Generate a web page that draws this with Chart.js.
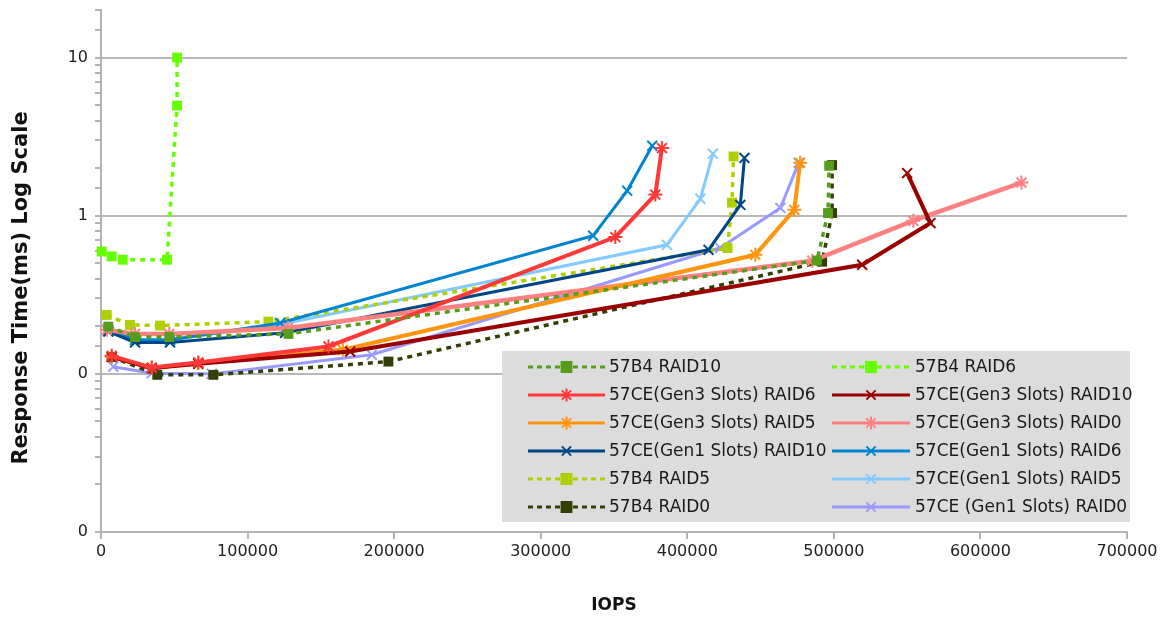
<!DOCTYPE html>
<html>
<head>
<meta charset="utf-8">
<script src="https://cdn.jsdelivr.net/npm/chart.js@4.4.1/dist/chart.umd.min.js"></script>
<style>
  html, body { margin: 0; padding: 0; background: #ffffff; }
  #wrap { width: 1169px; height: 621px; }
</style>
</head>
<body>
<div id="wrap"><canvas id="c" width="1169" height="621"></canvas></div>
<script>
// IOPS (x) and response time in ms (y) for each controller / RAID configuration
const iops_57B4_R10 = [5000, 23200, 46600, 127900, 488500, 496000, 496800];
const rt_57B4_R10   = [0.199, 0.171, 0.171, 0.179, 0.521, 1.04, 2.07];

const iops_57B4_R6 = [500, 7300, 14800, 45000, 51900, 51900];
const rt_57B4_R6   = [0.594, 0.553, 0.527, 0.527, 4.97, 10.0];

const iops_G3_R6 = [7300, 34600, 66400, 155200, 350900, 378200, 382700];
const rt_G3_R6   = [0.130, 0.1096, 0.118, 0.149, 0.733, 1.36, 2.68];

const iops_G3_R10 = [7300, 34600, 66400, 170000, 519300, 565900, 550000];
const rt_G3_R10   = [0.128, 0.1086, 0.1157, 0.1384, 0.490, 0.899, 1.86];

const iops_G3_R5 = [7300, 34600, 66400, 165000, 446400, 473000, 477000];
const rt_G3_R5   = [0.128, 0.109, 0.117, 0.142, 0.566, 1.09, 2.16];

const iops_G3_R0 = [4000, 23200, 46600, 127600, 485300, 554200, 628000];
const rt_G3_R0   = [0.19, 0.179, 0.179, 0.195, 0.519, 0.93, 1.62];

const iops_G1_R10 = [5000, 23200, 47100, 125600, 414500, 436200, 439000];
const rt_G1_R10   = [0.185, 0.158, 0.158, 0.182, 0.609, 1.17, 2.32];

const iops_G1_R6 = [4800, 23200, 47100, 122200, 335800, 359000, 376100];
const rt_G1_R6   = [0.19, 0.164, 0.164, 0.21, 0.747, 1.44, 2.77];

const iops_57B4_R5 = [3900, 19800, 40300, 114200, 427500, 430500, 431600];
const rt_57B4_R5   = [0.236, 0.204, 0.202, 0.214, 0.625, 1.21, 2.37];

const iops_G1_R5 = [5000, 23200, 47100, 122200, 386100, 408900, 417500];
const rt_G1_R5   = [0.19, 0.165, 0.165, 0.205, 0.655, 1.28, 2.47];

const iops_57B4_R0 = [7300, 38400, 76700, 196100, 492000, 498800, 498800];
const rt_57B4_R0   = [0.128, 0.0986, 0.0986, 0.1196, 0.512, 1.04, 2.09];

const iops_G1_R0 = [8400, 34600, 75600, 184800, 422500, 463500, 476000];
const rt_G1_R0   = [0.111, 0.101, 0.1, 0.132, 0.627, 1.12, 2.16];

const seriesLabels = [
  '57B4 RAID10', '57B4 RAID6',
  '57CE(Gen3 Slots) RAID6', '57CE(Gen3 Slots) RAID10',
  '57CE(Gen3 Slots) RAID5', '57CE(Gen3 Slots) RAID0',
  '57CE(Gen1 Slots) RAID10', '57CE(Gen1 Slots) RAID6',
  '57B4 RAID5', '57CE(Gen1 Slots) RAID5',
  '57B4 RAID0', '57CE (Gen1 Slots) RAID0'
];

const xTicks = [0, 100000, 200000, 300000, 400000, 500000, 600000, 700000];
const yDecades = [0.01, 0.1, 1, 10];

function pts(xs, ys) { return xs.map((x, i) => ({ x: x, y: ys[i] })); }

// dotted series with square markers (57B4), solid series with star / cross markers (57CE)
function dotted(label, xs, ys, color) {
  return {
    label, data: pts(xs, ys), borderColor: color, backgroundColor: color,
    borderWidth: 3.5, borderDash: [5, 5], showLine: true, tension: 0,
    pointStyle: 'rect', pointRadius: 7, pointHoverRadius: 7,
    pointBorderWidth: 0, pointBackgroundColor: color, pointBorderColor: color, clip: 12
  };
}
function solid(label, xs, ys, color, width, style) {
  return {
    label, data: pts(xs, ys), borderColor: color, backgroundColor: color,
    borderWidth: width, showLine: true, tension: 0,
    pointStyle: style, pointRadius: 7, pointHoverRadius: 7,
    pointBorderWidth: 2, pointBackgroundColor: color, pointBorderColor: color, clip: 12
  };
}

const datasets = [
  dotted(seriesLabels[0], iops_57B4_R10, rt_57B4_R10, '#579d1c'),
  dotted(seriesLabels[1], iops_57B4_R6, rt_57B4_R6, '#66ff00'),
  solid(seriesLabels[2], iops_G3_R6, rt_G3_R6, '#ff3838', 4, 'star'),
  solid(seriesLabels[3], iops_G3_R10, rt_G3_R10, '#990000', 4, 'crossRot'),
  solid(seriesLabels[4], iops_G3_R5, rt_G3_R5, '#ff950e', 4, 'star'),
  solid(seriesLabels[5], iops_G3_R0, rt_G3_R0, '#ff8080', 4.5, 'star'),
  solid(seriesLabels[6], iops_G1_R10, rt_G1_R10, '#004586', 3, 'crossRot'),
  solid(seriesLabels[7], iops_G1_R6, rt_G1_R6, '#0084d1', 3, 'crossRot'),
  dotted(seriesLabels[8], iops_57B4_R5, rt_57B4_R5, '#aecf00'),
  solid(seriesLabels[9], iops_G1_R5, rt_G1_R5, '#83caff', 3, 'crossRot'),
  dotted(seriesLabels[10], iops_57B4_R0, rt_57B4_R0, '#314004'),
  solid(seriesLabels[11], iops_G1_R0, rt_G1_R0, '#9999ff', 3, 'crossRot')
];

const isDecade = v => yDecades.some(d => Math.abs(v - d) / d < 1e-6);

// two-column legend inside a grey panel in the lower right of the plot
const panelLegend = {
  id: 'panelLegend',
  afterDraw(chart) {
    const ctx = chart.ctx;
    ctx.save();
    ctx.fillStyle = '#dcdcdc';
    ctx.fillRect(502, 351, 628, 171);
    chart.data.datasets.forEach((ds, i) => {
      const row = Math.floor(i / 2), col = i % 2;
      const y = 367 + row * 28;
      const x0 = col ? 832 : 528, x1 = col ? 910 : 605, tx = col ? 915 : 609;
      ctx.strokeStyle = ds.borderColor;
      ctx.fillStyle = ds.borderColor;
      ctx.lineWidth = 3;
      ctx.setLineDash(ds.borderDash ? [5, 4] : []);
      ctx.beginPath();
      ctx.moveTo(x0, y); ctx.lineTo(x1, y);
      ctx.stroke();
      ctx.setLineDash([]);
      ctx.lineWidth = ds.pointBorderWidth || 2;
      Chart.helpers.drawPoint(ctx, { pointStyle: ds.pointStyle, radius: ds.pointStyle === 'rect' ? 7 : 6.5, borderWidth: ctx.lineWidth, rotation: 0 }, (x0 + x1) / 2, y);
      ctx.fillStyle = '#1a1a1a';
      ctx.font = '17px "DejaVu Sans"';
      ctx.textBaseline = 'middle';
      ctx.textAlign = 'left';
      ctx.fillText(ds.label, tx, y + 1);
    });
    ctx.restore();
  }
};

// axis titles
const axisTitles = {
  id: 'axisTitles',
  afterDraw(chart) {
    const ctx = chart.ctx;
    ctx.save();
    ctx.fillStyle = '#111111';
    ctx.textAlign = 'center';
    ctx.textBaseline = 'middle';
    ctx.font = 'bold 17px "DejaVu Sans"';
    ctx.fillText('IOPS', 614, 606);
    ctx.translate(22, 288);
    ctx.rotate(-Math.PI / 2);
    ctx.font = 'bold 21px "DejaVu Sans"';
    ctx.fillText('Response Time(ms) Log Scale', 0, 0);
    ctx.restore();
  }
};

new Chart(document.getElementById('c'), {
  type: 'scatter',
  data: { datasets },
  options: {
    responsive: false,
    animation: false,
    devicePixelRatio: 1,
    layout: { padding: { top: 10, right: 42, left: 0, bottom: 0 } },
    plugins: { legend: { display: false }, tooltip: { enabled: false } },
    scales: {
      x: {
        type: 'linear', min: 0, max: 700000,
        afterBuildTicks: s => { s.ticks = xTicks.map(v => ({ value: v })); },
        ticks: { color: '#222222', font: { family: 'DejaVu Sans', size: 16 }, padding: 3, maxRotation: 0, callback: v => String(v) },
        grid: { drawOnChartArea: false, color: '#b3b3b3', tickColor: '#b3b3b3', tickLength: 7, lineWidth: 2 },
        border: { color: '#b3b3b3', width: 2 },
        afterFit: s => { s.height = 89; }
      },
      y: {
        type: 'logarithmic', min: 0.01, max: 20,
        ticks: {
          color: '#222222', font: { family: 'DejaVu Sans', size: 16 }, padding: 7, autoSkip: false,
          callback: v => isDecade(v) ? (v < 1 ? '0' : String(Math.round(v))) : ''
        },
        grid: {
          color: c => (c.tick && isDecade(c.tick.value)) ? '#b8b8b8' : 'rgba(0,0,0,0)',
          tickColor: '#b3b3b3', tickLength: 6, lineWidth: 2
        },
        border: { color: '#b3b3b3', width: 2 },
        afterFit: s => { s.width = 101; s.paddingTop = 0; s.paddingBottom = 0; }
      }
    }
  },
  plugins: [panelLegend, axisTitles]
});
</script>
</body>
</html>
